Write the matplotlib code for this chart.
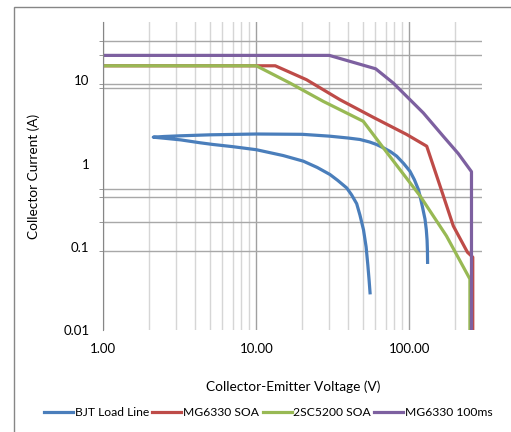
import numpy as np
import matplotlib
matplotlib.use('Agg')
import matplotlib.pyplot as plt
from matplotlib.ticker import FixedLocator, FixedFormatter, NullFormatter
from matplotlib.patches import Rectangle

plt.rcParams['font.family'] = ['Lato', 'DejaVu Sans']

# ---------------- data ----------------
# BJT load line: one loop, from the lower end up to the tip and back out on the upper branch
load_v = [55.4, 54.6, 53.6, 52.2, 50.2, 47.6, 45.3, 42, 39, 34, 30.3, 25, 20.3, 15, 10, 7, 5.2, 4.3, 3.2, 2.5, 2.12,
          2.5, 3.2, 5, 10, 20, 30, 40, 47.6, 55, 61, 67.6, 75, 82.7, 92, 101, 108, 114.6, 117.5, 122, 126.7, 129.2, 130.7, 131.4, 131.7]
load_i = [0.028, 0.04, 0.06, 0.1, 0.16, 0.24, 0.33, 0.42, 0.51, 0.63, 0.74, 0.9, 1.07, 1.25, 1.47, 1.6, 1.7, 1.78, 1.93, 2.02, 2.08,
          2.12, 2.16, 2.22, 2.27, 2.25, 2.14, 2.03, 1.95, 1.82, 1.7, 1.55, 1.4, 1.23, 1.0, 0.81, 0.64, 0.49, 0.41, 0.3, 0.215, 0.16, 0.12, 0.09, 0.065]

mg_soa_v = [1, 13.3, 21.3, 35.2, 58.2, 96.2, 130, 158.8, 194, 240, 260, 260]
mg_soa_i = [15, 15, 10.2, 5.87, 3.6, 2.24, 1.62, 0.54, 0.178, 0.086, 0.075, 0.01]

c5200_v = [1, 10, 16.6, 27.4, 50, 67.6, 117.5, 175, 249, 249]
c5200_i = [15, 15, 9.3, 5.6, 3.23, 1.55, 0.41, 0.135, 0.041, 0.01]

mg_100ms_v = [1, 30, 60.3, 78.6, 123.5, 166.8, 209, 255, 255]
mg_100ms_i = [20, 20, 13.8, 9.3, 4.07, 2.13, 1.32, 0.8, 0.01]

x_ticks = [1, 10, 100]
x_labels = ['1.00', '10.00', '100.00']
y_ticks = [0.01, 0.1, 1, 10]
y_labels = ['0.01', '0.1', '1', '10']
y_grid = [30, 20, 10, 9, 8, 0.5, 0.4, 0.2, 0.1, 0.09]

# ---------------- figure ----------------
fig = plt.figure(figsize=(5.11, 4.32), dpi=100)
ax = fig.add_axes([0.2022, 0.2361, 0.7416, 0.7123])

fig.patches.append(Rectangle((0.028, -0.05), 1.1, 0.983 + 0.05, transform=fig.transFigure,
                             fill=False, edgecolor='#868686', linewidth=1))

ax.plot(load_v, load_i, color='#4A7EBB', lw=2.3, label='BJT Load Line')
ax.plot(mg_soa_v, mg_soa_i, color='#BE4B48', lw=2.3, label='MG6330 SOA')
ax.plot(c5200_v, c5200_i, color='#98B954', lw=2.3, label='2SC5200 SOA')
ax.plot(mg_100ms_v, mg_100ms_i, color='#7D60A0', lw=2.3, label='MG6330 100ms')

ax.set_xscale('log')
ax.set_yscale('log')
ax.set_xlim(1, 300)
ax.set_ylim(0.01, 50)

ax.xaxis.set_major_locator(FixedLocator(x_ticks))
ax.xaxis.set_major_formatter(FixedFormatter(x_labels))
ax.xaxis.set_minor_locator(FixedLocator([m * 10 ** k for k in range(0, 3) for m in range(2, 10) if m * 10 ** k < 300]))
ax.xaxis.set_minor_formatter(NullFormatter())

ax.yaxis.set_major_locator(FixedLocator(y_ticks))
ax.yaxis.set_major_formatter(FixedFormatter(y_labels))
ax.yaxis.set_minor_locator(FixedLocator(y_grid))
ax.yaxis.set_minor_formatter(NullFormatter())

ax.grid(True, which='major', axis='x', color='#A0A0A0', lw=1)
ax.grid(True, which='minor', axis='x', color='#D6D6D6', lw=1)
ax.grid(True, which='minor', axis='y', color='#A8A8A8', lw=1)
ax.set_axisbelow(True)

for s in ['top', 'right', 'bottom']:
    ax.spines[s].set_visible(False)
ax.spines['left'].set_color('#868686')

ax.tick_params(axis='x', which='both', length=0, pad=9, labelsize=9.5)
ax.tick_params(axis='y', which='major', length=0, pad=10, labelsize=9.5)
ax.tick_params(axis='y', which='minor', length=3, color='#868686', direction='out')

ax.set_xlabel('Collector-Emitter Voltage (V)', fontsize=9.8)
ax.set_ylabel('Collector Current (A)', fontsize=9.8)
ax.xaxis.set_label_coords(0.5, -0.163)
ax.yaxis.set_label_coords(-0.167, 0.5)

fig.legend(loc='center', bbox_to_anchor=(0.525, 0.044), ncol=4, frameon=False, fontsize=8.7,
           handlelength=2.4, handletextpad=0.12, columnspacing=0.3, borderaxespad=0)

plt.savefig('out.png', dpi=100)
plt.close()
